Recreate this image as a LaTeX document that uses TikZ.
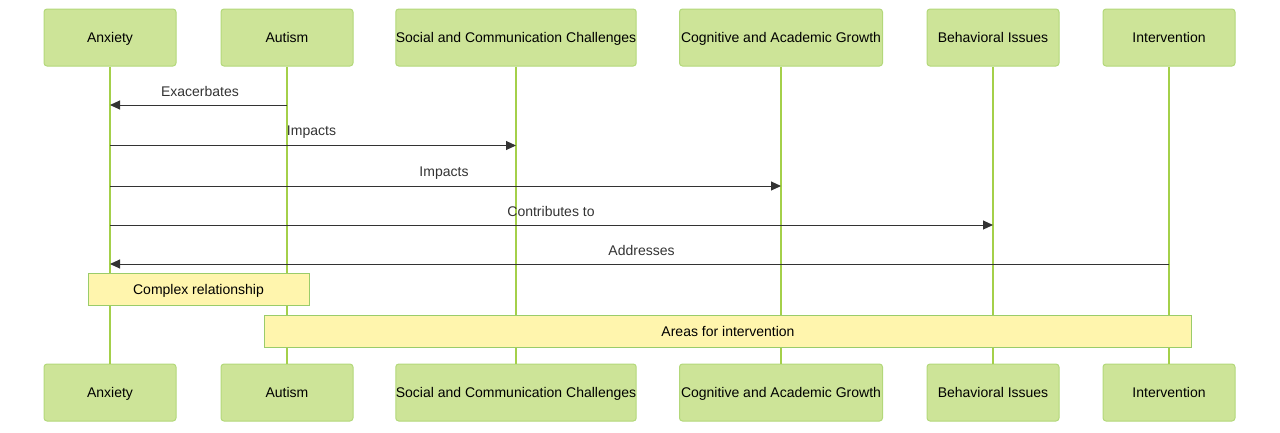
\documentclass[tikz,border=0pt]{standalone}
\usepackage{fontspec}
\setmainfont{Liberation Sans}
\usetikzlibrary{arrows.meta}
\definecolor{actfill}{HTML}{CDE498}
\definecolor{actline}{HTML}{B3D87A}
\definecolor{lifeline}{HTML}{A4D04A}
\definecolor{notefill}{HTML}{FFF5AD}
\definecolor{noteline}{HTML}{9ACC6A}
\definecolor{msg}{HTML}{333333}
\tikzset{
  actor/.style={draw=actline, fill=actfill, rounded corners=3pt, line width=1pt,
    minimum height=57pt, inner sep=0pt, text height=11.5pt, text depth=1.5pt,
    font=\fontsize{14pt}{16pt}\selectfont, text=black},
  life/.style={draw=lifeline, line width=1.5pt},
  msgline/.style={draw=msg, line width=1pt, -{Triangle[length=10pt,width=9pt]}},
  msglabel/.style={font=\fontsize{14pt}{16pt}\selectfont, text=msg, inner sep=0pt,
    text height=11pt, text depth=2pt},
  note/.style={draw=noteline, fill=notefill, line width=1pt, inner sep=0pt,
    minimum height=32pt, text height=11.5pt, text depth=1.5pt,
    font=\fontsize{14pt}{16pt}\selectfont, text=black}
}
\begin{document}
\begin{tikzpicture}[x=1pt,y=-1pt]
\useasboundingbox (0,0) rectangle (1280,432);
% top actors
\node[actor, minimum width=132pt] (a1) at (110,37.5) {Anxiety};
\node[actor, minimum width=132pt] (a2) at (287,37.5) {Autism};
\node[actor, minimum width=237pt] (a3) at (516,37.5) {Social and Communication Challenges};
\node[actor, minimum width=203pt] (a4) at (781,37.5) {Cognitive and Academic Growth};
\node[actor, minimum width=132pt] (a5) at (993,37.5) {Behavioral Issues};
\node[actor, minimum width=132pt] (a6) at (1169,37.5) {Intervention};
% bottom actors
\node[actor, minimum width=132pt] (b1) at (110,392.5) {Anxiety};
\node[actor, minimum width=132pt] (b2) at (287,392.5) {Autism};
\node[actor, minimum width=237pt] (b3) at (516,392.5) {Social and Communication Challenges};
\node[actor, minimum width=203pt] (b4) at (781,392.5) {Cognitive and Academic Growth};
\node[actor, minimum width=132pt] (b5) at (993,392.5) {Behavioral Issues};
\node[actor, minimum width=132pt] (b6) at (1169,392.5) {Intervention};
% lifelines
\foreach \i in {1,...,6} { \draw[life] (a\i.south) -- (b\i.north); }
% messages
\coordinate (m1s) at (a2.south |- 0,105);
\coordinate (m1e) at (a1.south |- 0,105);
\draw[msgline] (m1s) -- (m1e);
\node[msglabel] (l1) at (200,92) {Exacerbates};
\coordinate (m2s) at (a1.south |- 0,145.5);
\coordinate (m2e) at (a3.south |- 0,145.5);
\draw[msgline] (m2s) -- (m2e);
\node[msglabel] (l2) at (311.5,131) {Impacts};
\coordinate (m3s) at (a1.south |- 0,186);
\coordinate (m3e) at (a4.south |- 0,186);
\draw[msgline] (m3s) -- (m3e);
\node[msglabel] (l3) at (444,172) {Impacts};
\coordinate (m4s) at (a1.south |- 0,225);
\coordinate (m4e) at (a5.south |- 0,225);
\draw[msgline] (m4s) -- (m4e);
\node[msglabel] (l4) at (551,212) {Contributes to};
\coordinate (m5s) at (a6.south |- 0,264);
\coordinate (m5e) at (a1.south |- 0,264);
\draw[msgline] (m5s) -- (m5e);
\node[msglabel] (l5) at (641.5,251) {Addresses};
% notes
\node[note, minimum width=221pt] (n1) at (198.5,289) {Complex relationship};
\node[note, minimum width=927pt] (n2) at (728,331) {Areas for intervention};
\end{tikzpicture}
\end{document}
